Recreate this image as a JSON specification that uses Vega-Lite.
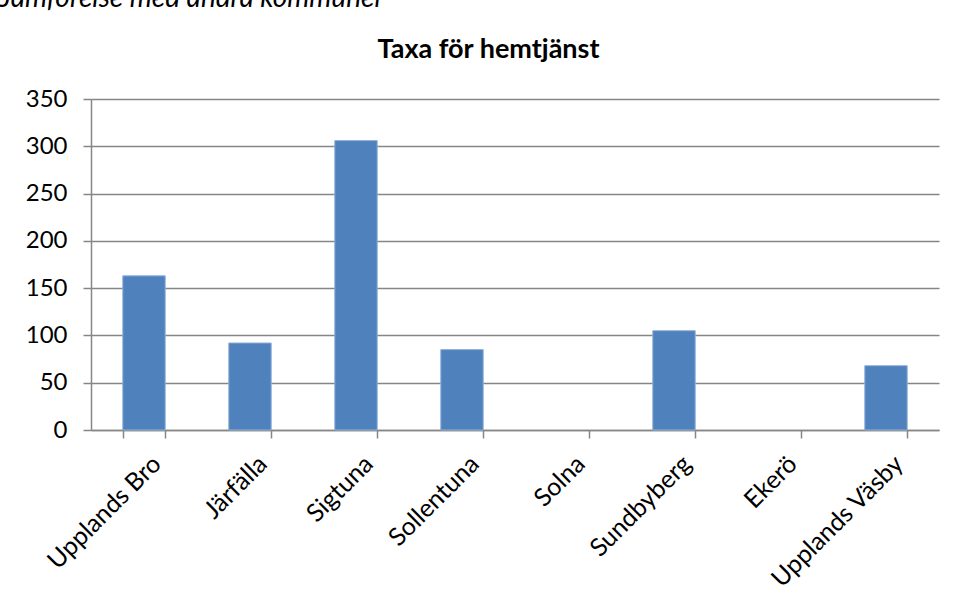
{
  "$schema": "https://vega.github.io/schema/vega-lite/v6.json",
  "autosize": {"type": "none"},
  "width": 848,
  "height": 331,
  "padding": {"left": 91, "top": 99, "right": 16, "bottom": 175},
  "background": "white",
  "title": {
    "text": "Jämförelse med andra kommuner",
    "anchor": "start",
    "frame": "group",
    "font": "Lato",
    "fontSize": 28,
    "fontStyle": "italic",
    "fontWeight": "normal",
    "color": "black",
    "baseline": "alphabetic",
    "dx": -91,
    "offset": 0
  },
  "data": {
    "values": [
      {"kommun": "Upplands Bro", "taxa": 163},
      {"kommun": "Järfälla", "taxa": 92},
      {"kommun": "Sigtuna", "taxa": 306},
      {"kommun": "Sollentuna", "taxa": 85},
      {"kommun": "Solna", "taxa": 0},
      {"kommun": "Sundbyberg", "taxa": 105},
      {"kommun": "Ekerö", "taxa": 0},
      {"kommun": "Upplands Väsby", "taxa": 68}
    ]
  },
  "mark": {"type": "bar", "color": "#4F81BD", "strokeWidth": 1},
  "encoding": {
    "x": {
      "field": "kommun",
      "type": "nominal",
      "sort": null,
      "title": null,
      "scale": {"paddingInner": 0.6, "paddingOuter": 0.3},
      "axis": {
        "labelAngle": -45,
        "tickBand": "extent",
        "grid": false,
        "tickSize": 8,
        "labelPadding": 13,
        "labelOffset": 4,
        "labelFontSize": 25
      }
    },
    "y": {
      "field": "taxa",
      "type": "quantitative",
      "title": "Taxa för hemtjänst",
      "scale": {"domain": [0, 350], "nice": false},
      "axis": {
        "values": [0, 50, 100, 150, 200, 250, 300, 350],
        "tickSize": 8,
        "labelPadding": 16,
        "grid": true,
        "titleAngle": 0,
        "titleX": 397,
        "titleY": -42,
        "titleAlign": "center",
        "titleBaseline": "alphabetic",
        "titleFont": "Lato",
        "titleFontSize": 27,
        "titleFontWeight": "bold",
        "titleColor": "black"
      }
    },
    "stroke": {
      "condition": {"test": "datum.taxa > 0", "value": "#8FB0DA"},
      "value": null
    }
  },
  "config": {
    "view": {"stroke": null},
    "axis": {
      "domainColor": "#868686",
      "domainWidth": 1.5,
      "tickColor": "#868686",
      "tickWidth": 1.5,
      "gridColor": "#868686",
      "gridWidth": 1.5,
      "labelFont": "Lato",
      "labelFontSize": 24,
      "labelColor": "black"
    }
  }
}
